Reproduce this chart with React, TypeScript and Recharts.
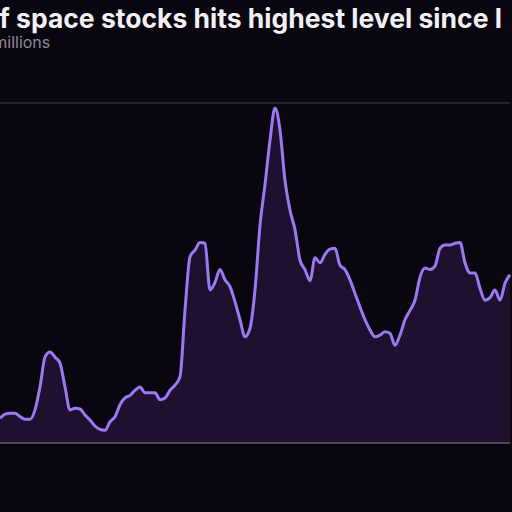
import { AreaChart, Area, XAxis, YAxis, CartesianGrid } from "recharts";

// daily volume (grid step = 1 unit, left/right edges cropped)
const volume = [
    0.29, 0.34, 0.35, 0.35, 0.31, 0.28, 0.28, 0.39, 0.66, 1.01,
    1.07, 1.01, 0.94, 0.66, 0.39, 0.41, 0.4, 0.33, 0.27, 0.2,
    0.16, 0.15, 0.25, 0.31, 0.45, 0.53, 0.56, 0.62, 0.66, 0.59,
    0.59, 0.59, 0.51, 0.53, 0.62, 0.68, 0.78, 1.56, 2.19, 2.27,
    2.36, 2.35, 1.8, 1.89, 2.04, 1.92, 1.84, 1.66, 1.45, 1.25,
    1.35, 1.8, 2.56, 3.04, 3.56, 3.94, 3.68, 3.09, 2.74, 2.51,
    2.15, 2.04, 1.91, 2.18, 2.12, 2.22, 2.28, 2.29, 2.09, 2.04,
    1.92, 1.76, 1.6, 1.45, 1.33, 1.25, 1.27, 1.31, 1.29, 1.15,
    1.27, 1.45, 1.56, 1.68, 1.95, 2.06, 2.04, 2.08, 2.29, 2.33,
    2.33, 2.35, 2.36, 2.12, 2.0, 2.0, 1.82, 1.68, 1.71, 1.8,
    1.68, 1.88, 1.98,
];
const yTicks = [0, 1, 2, 3, 4];
const title = "of space stocks hits highest level since l";
const subtitle = "In millions";

const data = volume.map((v, i) => ({ day: i, volume: v }));

export default function App() {
    return (
        <div
            style={{
                position: "fixed",
                top: 0,
                left: 0,
                width: 512,
                height: 512,
                overflow: "hidden",
                background: "#09060f",
                fontFamily: "Inter, 'Noto Sans', sans-serif",
            }}
        >
            <div
                style={{
                    position: "absolute",
                    top: 2,
                    left: -17,
                    whiteSpace: "nowrap",
                    color: "#f2f0f5",
                    fontSize: 26.5,
                    fontWeight: 700,
                }}
            >
                {title}
            </div>
            <div
                style={{
                    position: "absolute",
                    top: 32,
                    left: -25,
                    whiteSpace: "nowrap",
                    color: "#8e8a96",
                    fontSize: 16,
                }}
            >
                {subtitle}
            </div>
            <div style={{ position: "absolute", top: 0, left: 0 }}>
                <AreaChart
                    width={512}
                    height={512}
                    data={data}
                    margin={{ top: 103, right: 2, left: 0, bottom: 68 }}
                >
                    <CartesianGrid
                        vertical={false}
                        stroke="#262130"
                        strokeWidth={2}
                    />
                    <XAxis
                        dataKey="day"
                        tick={false}
                        tickLine={false}
                        height={1}
                        axisLine={{ stroke: "#4d4856", strokeWidth: 2 }}
                    />
                    <YAxis
                        width={0}
                        domain={[0, 4]}
                        ticks={yTicks}
                        tick={false}
                        tickLine={false}
                        axisLine={false}
                    />
                    <Area
                        type="monotone"
                        dataKey="volume"
                        stroke="#9b79f2"
                        strokeWidth={3}
                        fill="#1e1130"
                        fillOpacity={1}
                        isAnimationActive={false}
                    />
                </AreaChart>
            </div>
        </div>
    );
}
